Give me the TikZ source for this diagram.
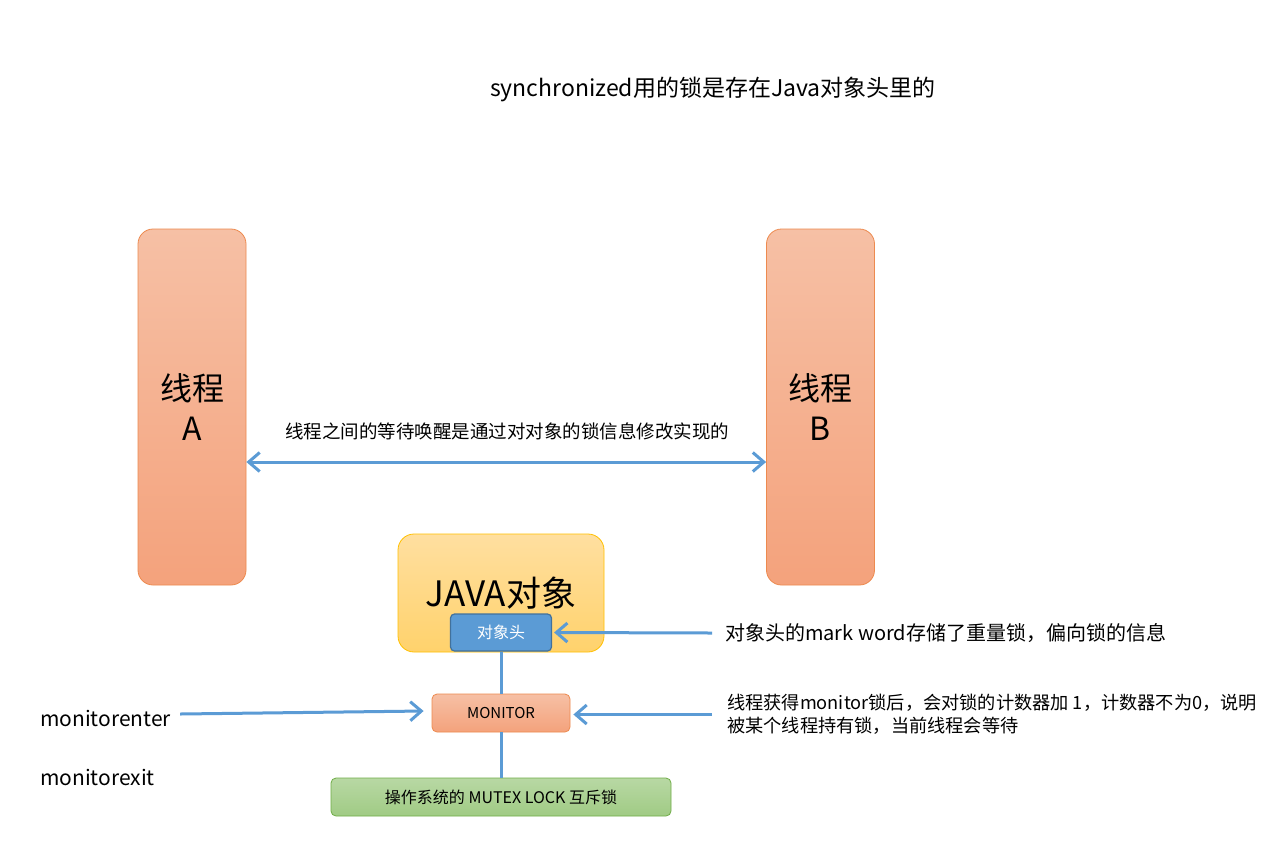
\documentclass[tikz,border=0pt]{standalone}
\usepackage{fontspec}
\setmainfont{Noto Sans CJK SC}
\usetikzlibrary{arrows.meta,positioning}

\definecolor{threadtop}{HTML}{F6C0A5}
\definecolor{threadbot}{HTML}{F4A27C}
\definecolor{threadline}{HTML}{ED8A4F}
\definecolor{objtop}{HTML}{FFDFA0}
\definecolor{objbot}{HTML}{FFD26C}
\definecolor{objline}{HTML}{FFC000}
\definecolor{headfill}{HTML}{5B9BD5}
\definecolor{headline}{HTML}{41719C}
\definecolor{mutextop}{HTML}{B8D8A4}
\definecolor{mutexbot}{HTML}{A0CB84}
\definecolor{mutexline}{HTML}{70AD47}
\definecolor{linkblue}{HTML}{5B9BD5}

\begin{document}
\begin{tikzpicture}[
  x=1pt, y=-1pt,
  thread/.style={
    draw=threadline,
    line width=0.8pt,
    rounded corners=15pt,
    top color=threadtop,
    bottom color=threadbot,
    minimum width=108pt,
    minimum height=356pt,
    align=center,
    font=\fontsize{32}{40}\selectfont
  },
  smallbox/.style={
    draw=threadline,
    line width=0.8pt,
    rounded corners=5pt,
    top color=threadtop,
    bottom color=threadbot,
    minimum height=38pt
  },
  note/.style={anchor=west, inner sep=0pt, align=left},
  link/.style={draw=linkblue, line width=3pt},
  arrow/.style={link, -{Straight Barb[length=11pt,width=19pt]}}
]

\fill[white] (0,0) rectangle (1276,847);
\useasboundingbox (0,0) rectangle (1276,847);

\node[font=\fontsize{23}{27}\selectfont] (title) at (713,89)
  {synchronized用的锁是存在Java对象头里的};

% the two threads
\node[thread] (threadA) at (192,407) {线程\\A};
\node[thread] (threadB) at (820.5,407) {线程\\B};
\node[font=\fontsize{18.5}{22}\selectfont] (waitnote) at (507,431)
  {线程之间的等待唤醒是通过对对象的锁信息修改实现的};
\draw[link, {Straight Barb[length=11pt,width=19pt]}-{Straight Barb[length=11pt,width=19pt]}]
  ([yshift=-55pt]threadA.east) -- ([yshift=-55pt]threadB.west);

% java object and its header
\node[draw=objline, line width=0.8pt, rounded corners=16pt,
  top color=objtop, bottom color=objbot,
  minimum width=206pt, minimum height=118pt,
  font=\fontsize{35}{40}\selectfont] (obj) at (501,593) {JAVA对象};
\node[draw=headline, line width=1.2pt, rounded corners=4pt, fill=headfill,
  text=white, minimum width=101pt, minimum height=37pt,
  font=\fontsize{16}{18}\selectfont] (header) at (501,632.5) {对象头};

\node[smallbox, minimum width=138pt, font=\fontsize{15}{18}\selectfont]
  (monitor) at (501,713) {MONITOR};
\node[draw=mutexline, line width=0.8pt, rounded corners=5pt,
  top color=mutextop, bottom color=mutexbot,
  minimum width=340pt, minimum height=38pt,
  font=\fontsize{16}{18}\selectfont] (mutex) at (501,797) {操作系统的 MUTEX LOCK 互斥锁};

\draw[link] (header.south) -- (monitor.north);
\draw[link] (monitor.south) -- (mutex.north);

% notes on the right and left
\node[note, font=\fontsize{20}{24}\selectfont] (markinfo) at (725,633)
  {对象头的mark word存储了重量锁，偏向锁的信息};
\node[note, font=\fontsize{18.2}{23}\selectfont] (countinfo) at (727,714.5)
  {线程获得monitor锁后，会对锁的计数器加 1，计数器不为0，说明\\
   被某个线程持有锁，当前线程会等待};
\node[note, font=\fontsize{21}{25}\selectfont] (monenter) at (40,718) {monitorenter};
\node[note, font=\fontsize{21}{25}\selectfont] (monexit) at (40,777) {monitorexit};

\draw[arrow] ([xshift=-13pt]markinfo.west) -- ([xshift=2pt]header.east);
\draw[arrow] ([xshift=-15pt]countinfo.west) -- ([xshift=3pt]countinfo.west -| monitor.east);
\draw[arrow] ([xshift=9pt,yshift=4pt]monenter.east) -- ([xshift=-8pt,yshift=2pt]monitor.west);

\end{tikzpicture}
\end{document}
